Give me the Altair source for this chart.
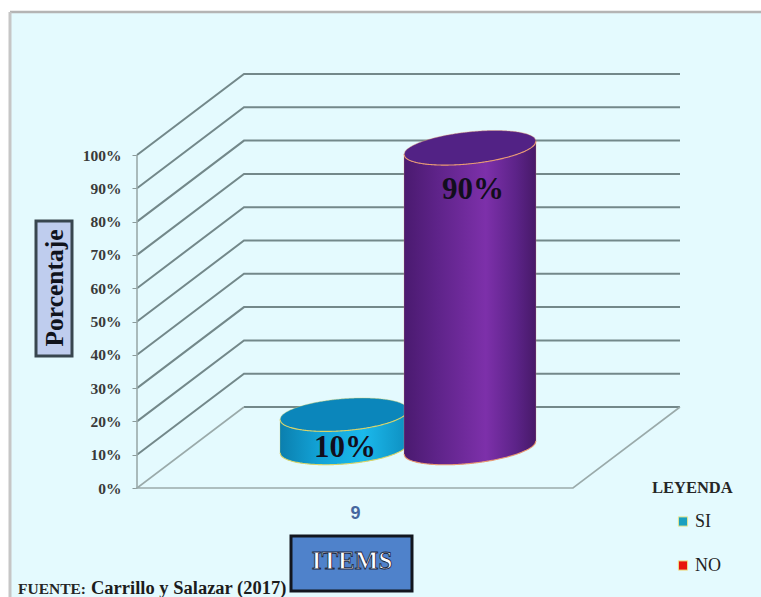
import numpy as np
import pandas as pd
import altair as alt

# Chart values
categories = ["SI", "NO"]
values = [10, 90]
item_label = "9"
grid_levels = [0, 10, 20, 30, 40, 50, 60, 70, 80, 90, 100]

# Canvas and frame layout
CANVAS_W, CANVAS_H = 761, 597
FRAME_L, FRAME_T = 10, 12
PLOT_W, PLOT_H = CANVAS_W - FRAME_L, CANVAS_H - FRAME_T
FRAME_R, FRAME_B = CANVAS_W, CANVAS_H

# Oblique projection of the 3D box, in screen pixels
ORIGIN_X, ORIGIN_Y = 137, 488
FRONT_W = 436
PCT_PX = 3.33
DEPTH_DX, DEPTH_DY = 107, -81

x_domain = [(FRAME_L - ORIGIN_X) * 100 / FRONT_W, (FRAME_R - ORIGIN_X) * 100 / FRONT_W]
y_domain = [(ORIGIN_Y - FRAME_B) / PCT_PX, (ORIGIN_Y - FRAME_T) / PCT_PX]
x_scale = alt.Scale(domain=x_domain, range=[0, PLOT_W], nice=False, zero=False)
y_scale = alt.Scale(domain=y_domain, range=[PLOT_H, 0], nice=False, zero=False)


def du(px):
    return px * 100 / FRONT_W


def dv(px):
    return px / PCT_PX


# Real axes: the item label under the floor, the percentage ticks on the left wall
x_axis = alt.Axis(
    values=[50], labelExpr=f"'{item_label}'", ticks=False, domain=False, grid=False,
    title=None, offset=504 - FRAME_B, labelPadding=0, labelBaseline="top",
    labelFont="Liberation Sans", labelFontWeight="bold", labelFontSize=18, labelColor="#44679f",
)
y_axis = alt.Axis(
    values=grid_levels, labelExpr="datum.value + '%'", ticks=True, tickSize=5, tickColor="#8a9a9a",
    domain=False, grid=False, title=None, offset=FRAME_L - ORIGIN_X, labelPadding=11,
    labelFont="Liberation Serif", labelFontWeight="bold", labelFontSize=15.5, labelColor="#3a3a3a",
)
X = alt.X("x:Q", scale=x_scale, axis=x_axis)
Y = alt.Y("y:Q", scale=y_scale, axis=y_axis)

# Wall and floor lines
rows = []
for lv in grid_levels:
    pts = [(0, lv), (du(DEPTH_DX), lv + dv(-DEPTH_DY)), (du(DEPTH_DX) + 100, lv + dv(-DEPTH_DY))]
    if lv == 0:
        pts = pts[1:]
    for i, (a, b) in enumerate(pts):
        rows.append({"level": lv, "i": i, "x": a, "y": b})
grid = (
    alt.Chart(pd.DataFrame(rows))
    .mark_line(color="#73888a", strokeWidth=2)
    .encode(X, Y, detail="level:N", order="i:Q")
)

floor_df = pd.DataFrame(
    {
        "x": [du(DEPTH_DX), 0, 100, du(DEPTH_DX) + 100],
        "y": [dv(-DEPTH_DY), 0, 0, dv(-DEPTH_DY)],
        "i": [0, 1, 2, 3],
    }
)
floor = alt.Chart(floor_df).mark_line(color="#9aaaaa", strokeWidth=1.6).encode(X, Y, order="i:Q")
wall_df = pd.DataFrame({"x": [0, 0], "y": [0, 100], "i": [0, 1]})
wall = alt.Chart(wall_df).mark_line(color="#9aaaaa", strokeWidth=1.6).encode(X, Y, order="i:Q")


def grad(stops):
    return alt.Gradient(
        gradient="linear",
        x1=0, x2=1, y1=0, y2=0,
        stops=[alt.GradientStop(offset=o, color=c) for o, c in stops],
    )


def cylinder(value, cx_px, base_px, a_px, b_px, slope, body_stops, cap, edge):
    """Sheared-ellipse cylinder standing on the floor, top set by value."""
    dx = np.linspace(-a_px, a_px, 121)
    arc = b_px * np.sqrt(np.clip(1 - (dx / a_px) ** 2, 0, 1))
    px_x = cx_px + dx
    u = du(px_x - ORIGIN_X)
    base = dv(ORIGIN_Y - base_px)
    lean = dv(-slope * dx)
    top = base + value
    down = dv(arc)

    body = pd.DataFrame({"x": u, "y": base + lean - down, "y2": top + lean - down})
    capd = pd.DataFrame({"x": u, "y": top + lean - down, "y2": top + lean + down})
    rim = pd.concat(
        [
            pd.DataFrame({"x": u, "y": top + lean - down, "k": "front"}),
            pd.DataFrame({"x": u, "y": base + lean - down, "k": "base"}),
        ]
    )
    sides = pd.DataFrame(
        {"x": [u[0], u[0], u[-1], u[-1]], "y": [base + lean[0], top + lean[0], base + lean[-1], top + lean[-1]],
         "k": ["l", "l", "r", "r"]}
    )
    outline = pd.DataFrame({"x": u, "y": top + lean + down, "k": "back"})
    return [
        alt.Chart(body).mark_area(color=grad(body_stops), opacity=1).encode(X, Y, alt.Y2("y2:Q")),
        alt.Chart(capd).mark_area(color=cap, opacity=1).encode(X, Y, alt.Y2("y2:Q")),
        alt.Chart(rim).mark_line(color=edge, strokeWidth=1.1).encode(X, Y, detail="k:N"),
        alt.Chart(outline).mark_line(color=edge, strokeWidth=0.7, opacity=0.6).encode(X, Y, detail="k:N"),
        alt.Chart(sides).mark_line(color=edge, strokeWidth=0.6, opacity=0.45).encode(X, Y, detail="k:N"),
    ]


teal = cylinder(
    values[0], 344, 448, 64, 16, -0.075,
    [(0, "#0b7fae"), (0.3, "#12a2d6"), (0.65, "#1bb9ec"), (1, "#0e8fc0")],
    "#0b86bb", "#d8d46a",
)
purple = cylinder(
    values[1], 470, 447.5, 66, 16, -0.1,
    [(0, "#4a1a6f"), (0.25, "#5e2389"), (0.62, "#7d30aa"), (0.85, "#5c2388"), (1, "#471968")],
    "#522285", "#ea9a72",
)

# Value labels on the cylinders, placed under each cylinder's top
label_df = pd.DataFrame(
    {
        "x": [du(345 - ORIGIN_X), du(473 - ORIGIN_X)],
        "y": [values[0] + dv(ORIGIN_Y - 448) - dv(33), values[1] + dv(ORIGIN_Y - 447.5) - dv(42)],
        "t": [f"{v}%" for v in values],
    }
)
value_text = (
    alt.Chart(label_df)
    .mark_text(font="Liberation Serif", fontWeight="bold", fontSize=31, color="#120e1c")
    .encode(X, Y, text="t:N")
)


# Framed axis-title boxes and the source note, positioned on the canvas
def pxx(p):
    return p - FRAME_L


def pxy(p):
    return p - FRAME_T


def box(l, t, r, b, fill, stroke, stroke_w):
    d = pd.DataFrame({"a": [0]})
    return alt.Chart(d).mark_rect(fill=fill, stroke=stroke, strokeWidth=stroke_w).encode(
        x=alt.value(pxx(l)), x2=alt.value(pxx(r)), y=alt.value(pxy(t)), y2=alt.value(pxy(b))
    )


def caption(text, px, py, **kw):
    d = pd.DataFrame({"t": [text]})
    return alt.Chart(d).mark_text(font="Liberation Serif", fontWeight="bold", **kw).encode(
        x=alt.value(pxx(px)), y=alt.value(pxy(py)), text="t:N"
    )


# Frame: only the top and left edges lie inside the canvas
one = pd.DataFrame({"a": [0]})
frame_top = alt.Chart(one).mark_rule(color="#b4b4b4", strokeWidth=2.5).encode(
    x=alt.value(0), x2=alt.value(PLOT_W), y=alt.value(0)
)
frame_left = alt.Chart(one).mark_rule(color="#c6c6c6", strokeWidth=3).encode(
    x=alt.value(0), y=alt.value(0), y2=alt.value(PLOT_H)
)

y_box = box(36, 221, 72, 356, "#bfcdee", "#38464f", 3)
y_title = caption("Porcentaje", 55, 288, fontSize=25.5, angle=270, color="#10131c")
x_box = box(291, 536, 412, 591, "#4f82cb", "#12161f", 3)
x_title = caption("ITEMS", 352, 561, fontSize=25, color="#ffffff", stroke="#1d2a44", strokeWidth=0.9)
src_a = caption("FUENTE:", 18, 594, fontSize=15.5, align="left", baseline="alphabetic", color="#262626")
src_b = caption("Carrillo y Salazar (2017)", 91, 594, fontSize=18.5, align="left", baseline="alphabetic", color="#1c1c1c")

# Legend for the two answers
legend_df = pd.DataFrame({"cat": categories, "x": [50, 50], "y": [0, 0]})
legend = (
    alt.Chart(legend_df)
    .mark_square(size=0, opacity=1)
    .encode(
        X,
        Y,
        color=alt.Color(
            "cat:N",
            scale=alt.Scale(domain=categories, range=["#1aa0c0", "#e8140c"]),
            legend=alt.Legend(
                orient="none", legendX=pxx(652), legendY=pxy(480), title="LEYENDA",
                titleFont="Liberation Serif", titleFontWeight="bold", titleFontSize=16.5, titleColor="#262626",
                titlePadding=16, labelFont="Liberation Serif", labelFontSize=18, labelColor="#222222",
                symbolType="square", symbolSize=85, symbolOffset=22, symbolStrokeColor="#ece890",
                symbolStrokeWidth=1, rowPadding=26, labelOffset=3,
            ),
        ),
    )
)

chart = (
    alt.layer(
        grid, floor, wall, *teal, *purple, value_text,
        y_box, y_title, x_box, x_title, src_a, src_b, frame_top, frame_left, legend,
    )
    .properties(
        width=PLOT_W,
        height=PLOT_H,
        padding={"left": FRAME_L, "top": FRAME_T, "right": 0, "bottom": 0},
        autosize=alt.AutoSizeParams(type="none"),
        background="#ffffff",
        view=alt.ViewConfig(fill="#e4fafe", stroke="transparent"),
    )
)

chart.save("out.html", embed_options={"renderer": "svg", "actions": False})
